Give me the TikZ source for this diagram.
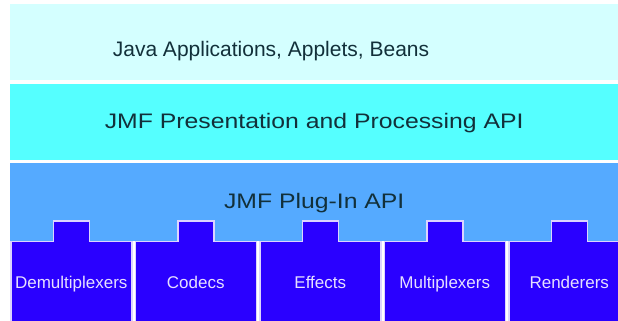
\documentclass[tikz,border=0pt]{standalone}
\usepackage{fontspec}
\setmainfont{Liberation Sans}
\newfontfamily\widesans[FakeStretch=1.18]{Liberation Sans}
\usetikzlibrary{positioning}

\definecolor{appcyan}{HTML}{D4FFFF}
\definecolor{jmfcyan}{HTML}{55FFFF}
\definecolor{plugblue}{HTML}{55AAFF}
\definecolor{boxblue}{HTML}{2A00FF}
\definecolor{edgelav}{HTML}{DCD4FF}
\definecolor{textdark}{HTML}{12303A}
\definecolor{labellav}{HTML}{E6E0FF}

\begin{document}
\begin{tikzpicture}[
    x=1pt, y=1pt,
    band/.style={minimum width=608pt, minimum height=76pt, inner sep=0pt,
                 font=\widesans\fontsize{21}{24}\selectfont, text=textdark,
                 text height=20pt, text depth=6pt},
    plugin/.style={fill=boxblue, draw=edgelav, line width=1.5pt,
                   minimum width=121pt, minimum height=84pt, inner sep=0pt,
                   font=\fontsize{17}{20}\selectfont, text=labellav,
                   text height=13pt, text depth=4pt},
    tab/.style={draw=edgelav, line width=1.5pt},
    node distance=3pt
  ]
  \useasboundingbox[fill=white] (0,0) rectangle (618,321);

  % layers of the stack
  \node[band, fill=appcyan, anchor=north west] (apps) at (10,317) {};
  \node[anchor=base, font=\fontsize{21}{24}\selectfont, text=textdark]
    (appstext) at (271,264) {Java Applications, Applets, Beans};
  \node[band, fill=jmfcyan, below=of apps] (presapi)
    {JMF Presentation and Processing API};
  \node[band, fill=plugblue, minimum height=78pt, text height=19pt,
        below=of presapi] (plugapi) {JMF Plug-In API};

  % plug-ins
  \node[plugin, anchor=north west] (demux) at (10,80) {Demultiplexers};
  \node[plugin, right=2pt of demux] (codecs) {Codecs};
  \node[plugin, right=2pt of codecs] (effects) {Effects};
  \node[plugin, right=2pt of effects] (mux) {Multiplexers};
  \node[plugin, right=2pt of mux] (render) {Renderers};

  % tabs plugging into the API
  \foreach \b in {demux, codecs, effects, mux, render} {
    \fill[boxblue] ([xshift=43.5pt, yshift=-2.5pt]\b.north west)
      rectangle ([xshift=79.5pt, yshift=20pt]\b.north west);
    \draw[tab] ([xshift=43.5pt, yshift=-0.75pt]\b.north west)
      |- ([xshift=79.5pt, yshift=20pt]\b.north west)
      -- ([xshift=79.5pt, yshift=-0.75pt]\b.north west);
  }
\end{tikzpicture}
\end{document}
